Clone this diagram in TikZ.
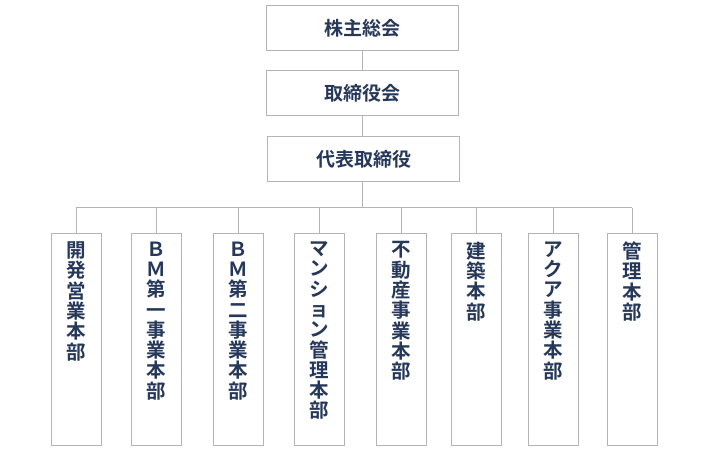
\documentclass[tikz,border=0pt]{standalone}
\usepackage{fontspec}
\newfontfamily\jpfont{Noto Sans CJK JP}[BoldFont={* Bold}]
\definecolor{txt}{HTML}{26385A}
\definecolor{edge}{HTML}{B4B4B4}
\begin{document}
\begin{tikzpicture}[x=1pt,y=-1pt,
  topbox/.style={draw=edge,line width=1pt,minimum width=192pt,minimum height=45pt,inner sep=0pt,
    font=\jpfont\bfseries\fontsize{19}{20}\selectfont,text=txt},
  deptbox/.style={draw=edge,line width=1pt,minimum width=50pt,minimum height=211pt,inner sep=0pt},
  vtext/.style={anchor=north,inner sep=0pt,align=center,text=txt,
    font=\jpfont\bfseries\fontsize{19.5}{20.3}\selectfont},
  conn/.style={draw=edge,line width=1pt}]
\useasboundingbox (0,0) rectangle (710,449);
\node[topbox] (gm) at (362.5,28.5) {株主総会};
\node[topbox] (bd) at (362,93.5) {取締役会};
\node[topbox] (rep) at (363.5,159.5) {代表取締役};
\coordinate (busL) at (76,208);
\coordinate (busR) at (632,208);
\foreach \n/\x in {1/76.5,2/156.5,3/238,4/319,5/401.5,6/476.5,7/553,8/632}{
  \node[deptbox] (b\n) at (\x,339.5) {};
}
\node[vtext] at ([yshift=-8pt]b1.north) {開\\発\\営\\業\\本\\部};
\node[vtext] at ([yshift=-8pt]b2.north) {Ｂ\\Ｍ\\第\\一\\事\\業\\本\\部};
\node[vtext] at ([yshift=-8pt]b3.north) {Ｂ\\Ｍ\\第\\二\\事\\業\\本\\部};
\node[vtext] at ([yshift=-8pt]b4.north) {マ\\ン\\シ\\ョ\\ン\\管\\理\\本\\部};
\node[vtext] at ([yshift=-8pt]b5.north) {不\\動\\産\\事\\業\\本\\部};
\node[vtext] at ([yshift=-8pt]b6.north) {建\\築\\本\\部};
\node[vtext] at ([yshift=-8pt]b7.north) {ア\\ク\\ア\\事\\業\\本\\部};
\node[vtext] at ([yshift=-8pt]b8.north) {管\\理\\本\\部};
\draw[conn] (gm.south) -- (bd.north -| gm.south);
\draw[conn] (bd.south -| gm.south) -- (rep.north -| gm.south);
\draw[conn] (rep.south -| gm.south) -- (busL -| gm.south);
\draw[conn] (busL) -- (busR);
\foreach \n in {1,...,8}{
  \draw[conn] (b\n.north) -- (b\n.north |- busL);
}
\end{tikzpicture}
\end{document}
